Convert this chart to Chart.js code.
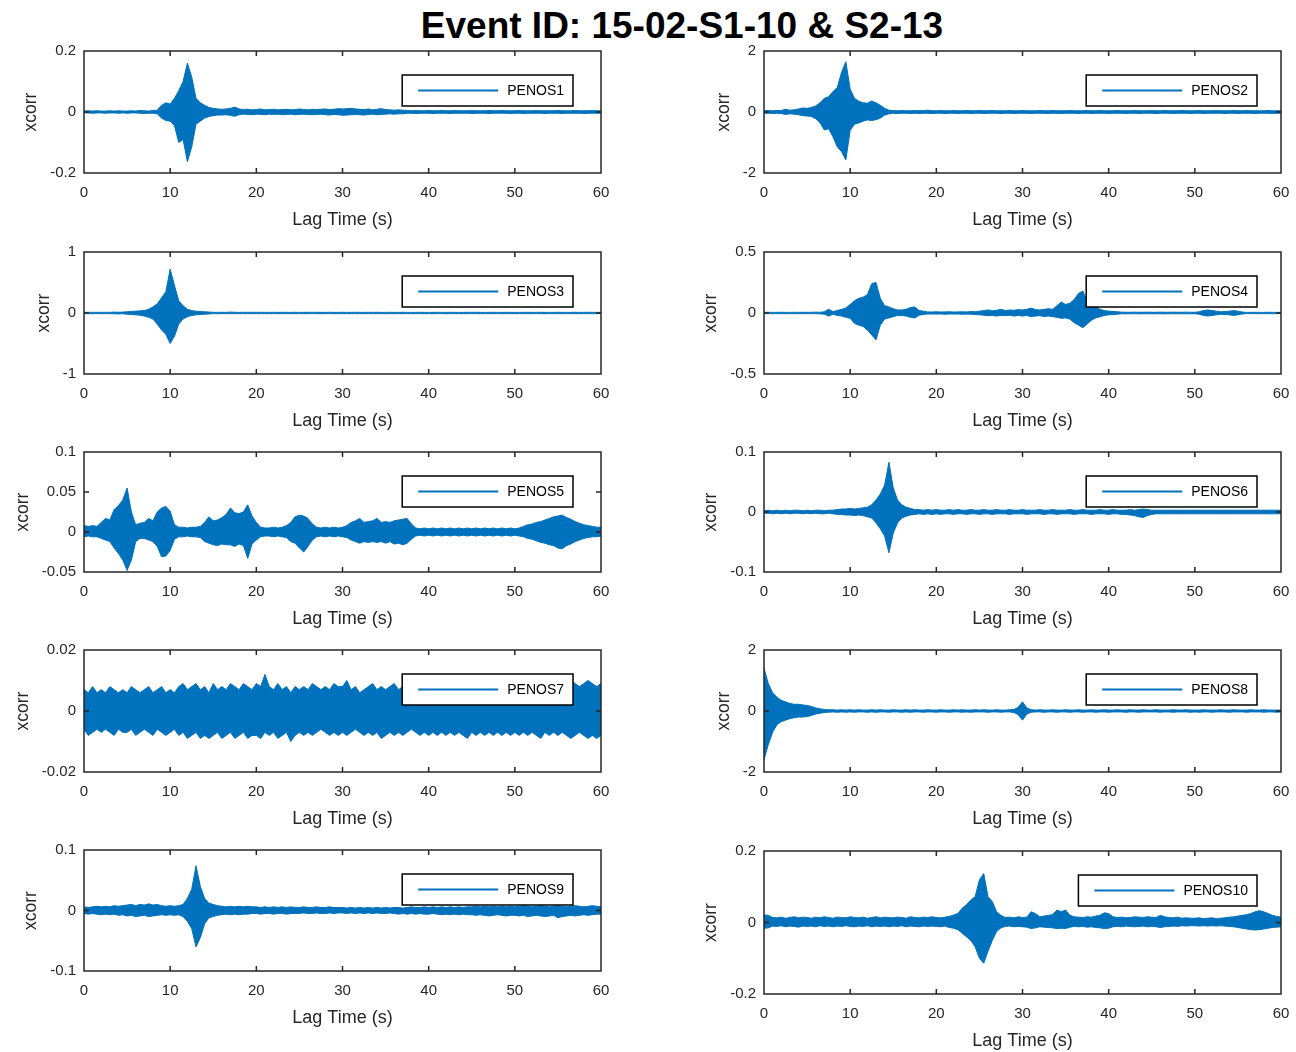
<!DOCTYPE html>
<html><head><meta charset="utf-8">
<script src="https://cdn.jsdelivr.net/npm/chart.js@4.4.1/dist/chart.umd.min.js"></script>
<style>
html,body{margin:0;padding:0;background:#fff;width:1296px;height:1052px;overflow:hidden;position:relative;font-family:"Liberation Sans",Arial,sans-serif}
#title{position:absolute;top:7px;left:682px;transform:translateX(-50%);font-size:37px;line-height:37px;font-weight:bold;white-space:nowrap;color:#000}
canvas{position:absolute}
#warn{position:absolute;left:0;bottom:0;color:red;font-size:12px}
</style></head><body>
<div id="title">Event ID: 15-02-S1-10 &amp; S2-13</div>
<div id="warn"></div>
<script>
// ---- DATA (upper / lower envelope of each cross-correlation trace, sampled every 0.5 s) ----
const lagTime = [0,0.5,1,1.5,2,2.5,3,3.5,4,4.5,5,5.5,6,6.5,7,7.5,8,8.5,9,9.5,
10,10.5,11,11.5,12,12.5,13,13.5,14,14.5,15,15.5,16,16.5,17,17.5,18,18.5,19,19.5,
20,20.5,21,21.5,22,22.5,23,23.5,24,24.5,25,25.5,26,26.5,27,27.5,28,28.5,29,29.5,
30,30.5,31,31.5,32,32.5,33,33.5,34,34.5,35,35.5,36,36.5,37,37.5,38,38.5,39,39.5,
40,40.5,41,41.5,42,42.5,43,43.5,44,44.5,45,45.5,46,46.5,47,47.5,48,48.5,49,49.5,
50,50.5,51,51.5,52,52.5,53,53.5,54,54.5,55,55.5,56,56.5,57,57.5,58,58.5,59,59.5,60];
const xTicks = [0,10,20,30,40,50,60];
const stations = ['PENOS1','PENOS2','PENOS3','PENOS4','PENOS5','PENOS6','PENOS7','PENOS8','PENOS9','PENOS10'];
const yLimits = [[-0.2,0.2],[-2,2],[-1,1],[-0.5,0.5],[-0.05,0.1],[-0.1,0.1],[-0.02,0.02],[-2,2],[-0.1,0.1],[-0.2,0.2]];
const yTicks = [[-0.2,0,0.2],[-2,0,2],[-1,0,1],[-0.5,0,0.5],[-0.05,0,0.05,0.1],[-0.1,0,0.1],[-0.02,0,0.02],[-2,0,2],[-0.1,0,0.1],[-0.2,0,0.2]];

const penos1Upper = [0.003,0.004,0.003,0.004,0.003,0.003,0.004,0.003,0.004,0.003,
0.003,0.004,0.003,0.005,0.004,0.003,0.005,0.006,0.022,0.03,
0.026,0.045,0.07,0.1,0.16,0.115,0.045,0.03,0.022,0.015,
0.012,0.01,0.009,0.01,0.012,0.016,0.01,0.008,0.009,0.007,
0.008,0.01,0.007,0.008,0.009,0.007,0.008,0.009,0.007,0.008,
0.01,0.008,0.007,0.009,0.008,0.009,0.01,0.008,0.009,0.011,
0.01,0.011,0.012,0.01,0.009,0.008,0.01,0.007,0.009,0.011,
0.008,0.007,0.006,0.007,0.006,0.005,0.004,0.005,0.004,0.004,
0.005,0.004,0.004,0.005,0.004,0.004,0.005,0.004,0.004,0.004,
0.005,0.004,0.004,0.004,0.005,0.004,0.004,0.005,0.004,0.004,
0.004,0.005,0.004,0.004,0.004,0.005,0.004,0.004,0.004,0.004,
0.005,0.004,0.004,0.004,0.005,0.004,0.004,0.004,0.005,0.004,0.004];
const penos1Lower = [-0.003,-0.003,-0.004,-0.003,-0.003,-0.004,-0.003,-0.003,-0.004,-0.003,
-0.004,-0.003,-0.003,-0.004,-0.005,-0.004,-0.004,-0.006,-0.02,-0.028,
-0.03,-0.045,-0.1,-0.09,-0.163,-0.115,-0.04,-0.03,-0.02,-0.015,
-0.012,-0.01,-0.01,-0.009,-0.011,-0.014,-0.009,-0.007,-0.008,-0.009,
-0.007,-0.008,-0.009,-0.007,-0.008,-0.007,-0.009,-0.008,-0.007,-0.009,
-0.008,-0.007,-0.008,-0.009,-0.008,-0.007,-0.009,-0.01,-0.008,-0.009,
-0.011,-0.01,-0.009,-0.008,-0.009,-0.01,-0.008,-0.007,-0.009,-0.008,
-0.007,-0.006,-0.007,-0.006,-0.006,-0.004,-0.004,-0.005,-0.004,-0.004,
-0.004,-0.005,-0.004,-0.004,-0.004,-0.005,-0.004,-0.004,-0.004,-0.004,
-0.005,-0.004,-0.004,-0.004,-0.005,-0.004,-0.004,-0.004,-0.004,-0.005,
-0.004,-0.004,-0.005,-0.004,-0.004,-0.004,-0.004,-0.005,-0.004,-0.004,
-0.004,-0.005,-0.004,-0.004,-0.004,-0.004,-0.005,-0.004,-0.004,-0.004,-0.004];

const penos2Upper = [0.04,0.05,0.04,0.05,0.05,0.09,0.06,0.07,0.1,0.13,
0.12,0.15,0.2,0.3,0.45,0.5,0.67,0.8,1.3,1.65,
0.75,0.45,0.35,0.3,0.29,0.36,0.3,0.22,0.12,0.06,
0.05,0.04,0.05,0.04,0.04,0.05,0.04,0.05,0.06,0.04,
0.04,0.05,0.04,0.04,0.05,0.04,0.04,0.05,0.04,0.04,
0.05,0.04,0.04,0.05,0.04,0.04,0.04,0.05,0.04,0.04,
0.05,0.04,0.04,0.04,0.05,0.04,0.04,0.05,0.04,0.04,
0.04,0.05,0.04,0.04,0.04,0.05,0.04,0.04,0.05,0.04,
0.04,0.04,0.05,0.04,0.04,0.04,0.05,0.04,0.04,0.04,
0.05,0.04,0.04,0.05,0.04,0.04,0.04,0.05,0.04,0.04,
0.04,0.05,0.04,0.04,0.04,0.05,0.04,0.04,0.04,0.05,
0.04,0.04,0.05,0.04,0.04,0.04,0.04,0.05,0.04,0.04,0.04];
const penos2Lower = [-0.04,-0.04,-0.05,-0.04,-0.05,-0.08,-0.06,-0.07,-0.09,-0.12,
-0.13,-0.15,-0.22,-0.35,-0.59,-0.55,-0.81,-1.14,-1.3,-1.57,
-0.6,-0.4,-0.36,-0.3,-0.26,-0.28,-0.25,-0.2,-0.1,-0.06,
-0.04,-0.05,-0.04,-0.04,-0.05,-0.04,-0.05,-0.04,-0.04,-0.05,
-0.04,-0.04,-0.05,-0.04,-0.04,-0.05,-0.04,-0.04,-0.05,-0.04,
-0.04,-0.05,-0.04,-0.04,-0.04,-0.05,-0.04,-0.04,-0.05,-0.04,
-0.04,-0.04,-0.05,-0.04,-0.04,-0.04,-0.05,-0.04,-0.04,-0.05,
-0.04,-0.04,-0.04,-0.05,-0.04,-0.04,-0.05,-0.04,-0.04,-0.04,
-0.05,-0.04,-0.04,-0.04,-0.05,-0.04,-0.04,-0.05,-0.04,-0.04,
-0.04,-0.05,-0.04,-0.04,-0.04,-0.05,-0.04,-0.04,-0.04,-0.05,
-0.04,-0.04,-0.05,-0.04,-0.04,-0.04,-0.04,-0.05,-0.04,-0.04,
-0.05,-0.04,-0.04,-0.04,-0.05,-0.04,-0.04,-0.04,-0.05,-0.04,-0.04];

const penos3Upper = [0.01,0.012,0.01,0.012,0.01,0.012,0.01,0.015,0.012,0.015,
0.02,0.025,0.03,0.035,0.04,0.06,0.1,0.15,0.25,0.35,
0.72,0.45,0.2,0.12,0.06,0.04,0.03,0.025,0.02,0.015,
0.012,0.01,0.012,0.01,0.015,0.012,0.01,0.012,0.01,0.012,
0.01,0.012,0.01,0.01,0.012,0.01,0.012,0.01,0.01,0.012,
0.01,0.01,0.012,0.01,0.012,0.01,0.01,0.012,0.01,0.01,
0.012,0.01,0.01,0.012,0.01,0.01,0.012,0.01,0.012,0.01,
0.01,0.012,0.01,0.01,0.012,0.01,0.01,0.01,0.012,0.01,
0.01,0.01,0.012,0.01,0.01,0.012,0.01,0.01,0.01,0.012,
0.01,0.012,0.01,0.01,0.01,0.012,0.01,0.01,0.012,0.01,
0.01,0.01,0.01,0.012,0.01,0.01,0.012,0.01,0.01,0.01,
0.012,0.01,0.01,0.01,0.012,0.01,0.01,0.012,0.01,0.01,0.01];
const penos3Lower = [-0.01,-0.01,-0.012,-0.01,-0.012,-0.01,-0.012,-0.012,-0.015,-0.012,
-0.02,-0.025,-0.03,-0.035,-0.05,-0.07,-0.1,-0.18,-0.28,-0.35,
-0.5,-0.38,-0.18,-0.1,-0.06,-0.04,-0.03,-0.025,-0.02,-0.015,
-0.01,-0.012,-0.01,-0.012,-0.01,-0.01,-0.012,-0.01,-0.012,-0.01,
-0.012,-0.01,-0.01,-0.012,-0.01,-0.012,-0.01,-0.01,-0.012,-0.01,
-0.01,-0.012,-0.01,-0.01,-0.01,-0.012,-0.01,-0.01,-0.012,-0.01,
-0.01,-0.01,-0.012,-0.01,-0.012,-0.01,-0.01,-0.012,-0.01,-0.01,
-0.012,-0.01,-0.01,-0.01,-0.012,-0.01,-0.012,-0.01,-0.01,-0.012,
-0.01,-0.012,-0.01,-0.01,-0.012,-0.01,-0.01,-0.01,-0.012,-0.01,
-0.01,-0.01,-0.012,-0.01,-0.01,-0.012,-0.01,-0.012,-0.01,-0.01,
-0.012,-0.01,-0.01,-0.012,-0.01,-0.01,-0.01,-0.012,-0.01,-0.01,
-0.01,-0.012,-0.01,-0.01,-0.012,-0.01,-0.01,-0.01,-0.012,-0.01,-0.01];

const penos4Upper = [0.005,0.006,0.005,0.005,0.006,0.005,0.005,0.006,0.005,0.006,
0.005,0.006,0.007,0.006,0.01,0.03,0.012,0.02,0.03,0.04,
0.07,0.1,0.12,0.13,0.15,0.24,0.25,0.12,0.06,0.05,
0.035,0.025,0.025,0.03,0.045,0.05,0.02,0.015,0.009,0.008,
0.01,0.008,0.009,0.01,0.008,0.009,0.01,0.009,0.012,0.01,
0.015,0.02,0.025,0.018,0.022,0.03,0.02,0.025,0.022,0.028,
0.025,0.03,0.04,0.028,0.025,0.03,0.035,0.03,0.06,0.09,
0.07,0.08,0.11,0.16,0.18,0.1,0.07,0.05,0.03,0.02,
0.015,0.012,0.01,0.007,0.006,0.006,0.007,0.006,0.006,0.007,
0.006,0.006,0.007,0.006,0.006,0.007,0.006,0.006,0.007,0.006,
0.006,0.01,0.02,0.025,0.02,0.015,0.01,0.012,0.015,0.02,
0.015,0.008,0.005,0.005,0.006,0.005,0.005,0.006,0.005,0.005,0.005];
const penos4Lower = [-0.005,-0.005,-0.006,-0.005,-0.005,-0.006,-0.005,-0.005,-0.006,-0.005,
-0.006,-0.005,-0.006,-0.007,-0.01,-0.025,-0.01,-0.02,-0.025,-0.035,
-0.044,-0.085,-0.1,-0.11,-0.14,-0.18,-0.22,-0.1,-0.05,-0.04,
-0.03,-0.02,-0.02,-0.025,-0.035,-0.04,-0.018,-0.012,-0.008,-0.008,
-0.009,-0.008,-0.01,-0.008,-0.009,-0.008,-0.01,-0.009,-0.01,-0.012,
-0.015,-0.018,-0.022,-0.02,-0.025,-0.02,-0.022,-0.018,-0.025,-0.02,
-0.025,-0.02,-0.03,-0.025,-0.022,-0.028,-0.025,-0.03,-0.035,-0.044,
-0.04,-0.05,-0.08,-0.1,-0.12,-0.09,-0.06,-0.04,-0.03,-0.02,
-0.015,-0.012,-0.01,-0.006,-0.007,-0.006,-0.006,-0.007,-0.006,-0.006,
-0.007,-0.006,-0.006,-0.007,-0.006,-0.006,-0.007,-0.006,-0.006,-0.007,
-0.006,-0.01,-0.02,-0.025,-0.02,-0.015,-0.01,-0.012,-0.015,-0.02,
-0.015,-0.008,-0.005,-0.005,-0.005,-0.006,-0.005,-0.005,-0.006,-0.005,-0.005];

const penos5Upper = [0.008,0.007,0.008,0.007,0.012,0.017,0.015,0.028,0.033,0.04,
0.055,0.025,0.009,0.011,0.012,0.017,0.014,0.025,0.03,0.032,
0.026,0.009,0.006,0.006,0.005,0.006,0.006,0.007,0.012,0.019,
0.014,0.015,0.018,0.022,0.03,0.024,0.023,0.025,0.034,0.02,
0.012,0.006,0.005,0.005,0.006,0.005,0.006,0.008,0.012,0.019,
0.021,0.02,0.017,0.01,0.006,0.005,0.006,0.005,0.006,0.005,
0.006,0.008,0.012,0.014,0.017,0.012,0.013,0.014,0.017,0.012,
0.013,0.012,0.014,0.015,0.016,0.017,0.01,0.005,0.004,0.005,
0.004,0.005,0.004,0.005,0.004,0.005,0.004,0.005,0.004,0.005,
0.004,0.005,0.004,0.005,0.004,0.005,0.004,0.005,0.004,0.005,
0.004,0.005,0.007,0.009,0.01,0.012,0.013,0.015,0.017,0.019,
0.02,0.021,0.018,0.016,0.013,0.011,0.009,0.008,0.007,0.006,0.006];
const penos5Lower = [-0.006,-0.005,-0.006,-0.006,-0.008,-0.01,-0.012,-0.02,-0.027,-0.035,
-0.048,-0.035,-0.012,-0.008,-0.008,-0.01,-0.012,-0.018,-0.031,-0.03,
-0.023,-0.009,-0.006,-0.006,-0.005,-0.006,-0.006,-0.007,-0.012,-0.014,
-0.016,-0.017,-0.015,-0.016,-0.016,-0.018,-0.015,-0.017,-0.033,-0.015,
-0.01,-0.006,-0.005,-0.005,-0.006,-0.005,-0.006,-0.007,-0.012,-0.014,
-0.02,-0.025,-0.018,-0.01,-0.006,-0.005,-0.006,-0.005,-0.006,-0.005,
-0.006,-0.007,-0.01,-0.012,-0.014,-0.012,-0.013,-0.012,-0.013,-0.012,
-0.014,-0.012,-0.015,-0.014,-0.016,-0.014,-0.009,-0.005,-0.004,-0.005,
-0.004,-0.005,-0.004,-0.005,-0.004,-0.005,-0.004,-0.005,-0.004,-0.005,
-0.004,-0.005,-0.004,-0.005,-0.004,-0.005,-0.004,-0.005,-0.004,-0.005,
-0.004,-0.005,-0.006,-0.008,-0.009,-0.011,-0.013,-0.014,-0.016,-0.017,
-0.02,-0.021,-0.017,-0.015,-0.012,-0.01,-0.008,-0.007,-0.006,-0.006,-0.005];

const penos6Upper = [0.002,0.003,0.002,0.003,0.002,0.003,0.002,0.003,0.003,0.002,
0.003,0.002,0.003,0.003,0.002,0.003,0.003,0.004,0.005,0.005,
0.006,0.005,0.006,0.007,0.008,0.012,0.02,0.03,0.045,0.083,
0.04,0.02,0.012,0.008,0.006,0.004,0.004,0.003,0.004,0.003,
0.004,0.003,0.003,0.004,0.003,0.004,0.003,0.003,0.004,0.003,
0.003,0.004,0.003,0.003,0.004,0.003,0.003,0.004,0.003,0.003,
0.004,0.003,0.003,0.003,0.004,0.003,0.003,0.004,0.003,0.003,
0.003,0.004,0.003,0.003,0.004,0.003,0.003,0.003,0.004,0.003,
0.003,0.004,0.003,0.003,0.003,0.004,0.003,0.004,0.005,0.004,
0.003,0.003,0.003,0.003,0.003,0.003,0.003,0.003,0.003,0.003,
0.003,0.003,0.003,0.003,0.003,0.003,0.003,0.003,0.003,0.003,
0.003,0.003,0.003,0.003,0.003,0.003,0.003,0.003,0.003,0.003,0.003];
const penos6Lower = [-0.002,-0.002,-0.003,-0.002,-0.003,-0.002,-0.003,-0.002,-0.002,-0.003,
-0.002,-0.003,-0.002,-0.003,-0.003,-0.002,-0.003,-0.004,-0.004,-0.005,
-0.005,-0.006,-0.005,-0.006,-0.008,-0.01,-0.018,-0.028,-0.04,-0.068,
-0.035,-0.018,-0.01,-0.007,-0.005,-0.004,-0.003,-0.004,-0.003,-0.004,
-0.003,-0.004,-0.003,-0.003,-0.004,-0.003,-0.003,-0.004,-0.003,-0.003,
-0.004,-0.003,-0.003,-0.004,-0.003,-0.003,-0.003,-0.004,-0.003,-0.003,
-0.003,-0.004,-0.003,-0.003,-0.003,-0.004,-0.003,-0.003,-0.004,-0.003,
-0.003,-0.003,-0.004,-0.003,-0.003,-0.003,-0.004,-0.003,-0.003,-0.003,
-0.004,-0.003,-0.003,-0.004,-0.004,-0.005,-0.006,-0.008,-0.009,-0.006,
-0.004,-0.003,-0.003,-0.003,-0.003,-0.003,-0.003,-0.003,-0.003,-0.003,
-0.003,-0.003,-0.003,-0.003,-0.003,-0.003,-0.003,-0.003,-0.003,-0.003,
-0.003,-0.003,-0.003,-0.003,-0.003,-0.003,-0.003,-0.003,-0.003,-0.003,-0.003];

const penos7Upper = [0.007,0.006,0.008,0.006,0.007,0.006,0.008,0.007,0.006,0.007,
0.006,0.008,0.007,0.006,0.007,0.008,0.006,0.007,0.008,0.006,
0.007,0.006,0.008,0.009,0.007,0.008,0.009,0.007,0.008,0.006,
0.009,0.007,0.008,0.007,0.009,0.008,0.007,0.009,0.008,0.007,
0.009,0.008,0.012,0.008,0.007,0.009,0.007,0.008,0.006,0.008,
0.007,0.008,0.007,0.009,0.008,0.007,0.008,0.007,0.009,0.008,
0.008,0.01,0.007,0.008,0.006,0.007,0.008,0.009,0.007,0.008,
0.007,0.008,0.009,0.007,0.008,0.006,0.008,0.007,0.009,0.008,
0.007,0.008,0.009,0.007,0.008,0.007,0.008,0.006,0.007,0.008,
0.007,0.009,0.008,0.007,0.008,0.007,0.009,0.008,0.007,0.008,
0.007,0.008,0.007,0.009,0.008,0.007,0.008,0.009,0.007,0.008,
0.008,0.009,0.008,0.01,0.009,0.008,0.009,0.01,0.009,0.008,0.009];
const penos7Lower = [-0.006,-0.008,-0.007,-0.006,-0.007,-0.006,-0.007,-0.008,-0.006,-0.007,
-0.007,-0.006,-0.008,-0.007,-0.006,-0.007,-0.008,-0.006,-0.007,-0.008,
-0.007,-0.006,-0.008,-0.007,-0.009,-0.008,-0.007,-0.009,-0.008,-0.009,
-0.008,-0.007,-0.009,-0.008,-0.007,-0.009,-0.008,-0.007,-0.009,-0.008,
-0.008,-0.009,-0.007,-0.008,-0.007,-0.009,-0.008,-0.007,-0.01,-0.008,
-0.007,-0.008,-0.007,-0.008,-0.007,-0.006,-0.007,-0.008,-0.007,-0.008,
-0.007,-0.008,-0.007,-0.006,-0.007,-0.008,-0.007,-0.008,-0.007,-0.009,
-0.008,-0.007,-0.008,-0.007,-0.008,-0.007,-0.006,-0.007,-0.008,-0.007,
-0.008,-0.007,-0.008,-0.007,-0.008,-0.007,-0.008,-0.007,-0.008,-0.009,
-0.007,-0.008,-0.007,-0.008,-0.007,-0.008,-0.007,-0.008,-0.007,-0.008,
-0.007,-0.008,-0.007,-0.008,-0.007,-0.008,-0.009,-0.007,-0.008,-0.007,
-0.008,-0.007,-0.008,-0.009,-0.008,-0.007,-0.008,-0.009,-0.008,-0.009,-0.008];

const penos8Upper = [1.4,0.9,0.6,0.45,0.35,0.3,0.25,0.22,0.22,0.2,
0.18,0.15,0.1,0.07,0.05,0.04,0.04,0.03,0.04,0.03,
0.04,0.03,0.04,0.03,0.03,0.04,0.03,0.04,0.03,0.03,
0.04,0.03,0.03,0.04,0.03,0.04,0.03,0.03,0.04,0.03,
0.03,0.04,0.03,0.03,0.04,0.03,0.04,0.03,0.03,0.04,
0.03,0.04,0.03,0.03,0.04,0.03,0.03,0.04,0.05,0.12,
0.3,0.1,0.04,0.03,0.04,0.03,0.03,0.04,0.03,0.03,
0.04,0.03,0.03,0.04,0.03,0.03,0.04,0.03,0.03,0.04,
0.03,0.03,0.04,0.03,0.03,0.04,0.03,0.03,0.04,0.03,
0.03,0.04,0.03,0.03,0.03,0.04,0.03,0.03,0.04,0.03,
0.03,0.03,0.04,0.03,0.03,0.03,0.04,0.03,0.03,0.04,
0.03,0.03,0.03,0.04,0.03,0.03,0.04,0.03,0.03,0.03,0.03];
const penos8Lower = [-1.6,-1.1,-0.7,-0.45,-0.35,-0.3,-0.25,-0.22,-0.2,-0.2,
-0.18,-0.15,-0.1,-0.07,-0.05,-0.04,-0.03,-0.04,-0.03,-0.04,
-0.03,-0.04,-0.03,-0.03,-0.04,-0.03,-0.04,-0.03,-0.03,-0.04,
-0.03,-0.03,-0.04,-0.03,-0.04,-0.03,-0.03,-0.04,-0.03,-0.03,
-0.04,-0.03,-0.03,-0.04,-0.03,-0.03,-0.04,-0.03,-0.04,-0.03,
-0.03,-0.03,-0.04,-0.03,-0.03,-0.04,-0.03,-0.03,-0.05,-0.12,
-0.3,-0.1,-0.04,-0.03,-0.03,-0.04,-0.03,-0.03,-0.04,-0.03,
-0.03,-0.04,-0.03,-0.03,-0.04,-0.03,-0.03,-0.04,-0.03,-0.03,
-0.04,-0.03,-0.03,-0.03,-0.04,-0.03,-0.03,-0.04,-0.03,-0.03,
-0.03,-0.03,-0.04,-0.03,-0.03,-0.04,-0.03,-0.03,-0.03,-0.04,
-0.03,-0.04,-0.03,-0.03,-0.04,-0.03,-0.03,-0.03,-0.04,-0.03,
-0.03,-0.03,-0.04,-0.03,-0.03,-0.03,-0.04,-0.03,-0.03,-0.04,-0.03];

const penos9Upper = [0.006,0.005,0.006,0.007,0.006,0.007,0.006,0.008,0.007,0.008,
0.009,0.01,0.008,0.01,0.009,0.011,0.009,0.01,0.008,0.007,
0.008,0.007,0.008,0.01,0.02,0.035,0.074,0.04,0.02,0.012,
0.01,0.008,0.007,0.006,0.007,0.006,0.007,0.006,0.007,0.006,
0.006,0.005,0.006,0.005,0.006,0.005,0.006,0.005,0.006,0.005,
0.005,0.006,0.005,0.005,0.006,0.005,0.005,0.006,0.005,0.005,
0.005,0.004,0.005,0.004,0.005,0.004,0.005,0.004,0.005,0.004,
0.005,0.004,0.005,0.005,0.004,0.005,0.006,0.005,0.005,0.006,
0.005,0.006,0.005,0.006,0.005,0.006,0.005,0.006,0.005,0.006,
0.006,0.007,0.006,0.007,0.006,0.007,0.006,0.007,0.006,0.007,
0.006,0.007,0.008,0.007,0.006,0.007,0.008,0.007,0.006,0.007,
0.008,0.007,0.006,0.007,0.008,0.007,0.006,0.007,0.008,0.007,0.006];
const penos9Lower = [-0.005,-0.006,-0.005,-0.006,-0.007,-0.006,-0.007,-0.006,-0.008,-0.007,
-0.009,-0.008,-0.01,-0.009,-0.008,-0.01,-0.009,-0.008,-0.007,-0.008,
-0.007,-0.008,-0.007,-0.01,-0.018,-0.03,-0.06,-0.045,-0.022,-0.012,
-0.01,-0.008,-0.007,-0.006,-0.007,-0.006,-0.007,-0.006,-0.006,-0.005,
-0.005,-0.006,-0.005,-0.005,-0.006,-0.005,-0.005,-0.006,-0.005,-0.005,
-0.005,-0.004,-0.005,-0.005,-0.004,-0.005,-0.005,-0.004,-0.005,-0.004,
-0.004,-0.005,-0.004,-0.005,-0.004,-0.005,-0.004,-0.005,-0.004,-0.005,
-0.005,-0.004,-0.005,-0.006,-0.005,-0.006,-0.005,-0.006,-0.005,-0.006,
-0.006,-0.005,-0.006,-0.007,-0.006,-0.007,-0.006,-0.007,-0.006,-0.007,
-0.007,-0.008,-0.007,-0.008,-0.009,-0.008,-0.007,-0.008,-0.009,-0.008,
-0.008,-0.009,-0.008,-0.01,-0.009,-0.008,-0.009,-0.01,-0.009,-0.008,
-0.012,-0.01,-0.009,-0.008,-0.009,-0.008,-0.007,-0.008,-0.007,-0.006,-0.006];

const penos10Upper = [0.021,0.02,0.014,0.013,0.015,0.012,0.014,0.016,0.013,0.015,
0.014,0.012,0.015,0.013,0.016,0.014,0.012,0.015,0.014,0.013,
0.016,0.014,0.013,0.015,0.012,0.014,0.016,0.013,0.015,0.014,
0.013,0.015,0.014,0.012,0.016,0.014,0.013,0.015,0.014,0.016,
0.014,0.013,0.015,0.017,0.021,0.025,0.04,0.05,0.063,0.072,
0.119,0.137,0.072,0.058,0.03,0.02,0.014,0.015,0.013,0.016,
0.014,0.015,0.03,0.025,0.016,0.018,0.02,0.022,0.035,0.03,
0.035,0.02,0.016,0.015,0.014,0.016,0.015,0.018,0.02,0.027,
0.025,0.016,0.014,0.015,0.013,0.014,0.016,0.015,0.014,0.016,
0.015,0.014,0.02,0.016,0.014,0.013,0.015,0.012,0.013,0.012,
0.012,0.013,0.011,0.012,0.013,0.011,0.012,0.013,0.015,0.016,
0.018,0.02,0.022,0.025,0.03,0.033,0.03,0.025,0.02,0.017,0.015];
const penos10Lower = [-0.016,-0.015,-0.01,-0.011,-0.009,-0.012,-0.01,-0.011,-0.013,-0.01,
-0.011,-0.01,-0.012,-0.009,-0.011,-0.01,-0.012,-0.01,-0.011,-0.009,
-0.011,-0.012,-0.01,-0.011,-0.009,-0.012,-0.01,-0.011,-0.01,-0.012,
-0.01,-0.011,-0.009,-0.012,-0.01,-0.011,-0.012,-0.01,-0.011,-0.01,
-0.011,-0.012,-0.01,-0.014,-0.016,-0.02,-0.03,-0.04,-0.05,-0.068,
-0.1,-0.114,-0.08,-0.05,-0.025,-0.015,-0.011,-0.01,-0.012,-0.011,
-0.012,-0.013,-0.017,-0.015,-0.012,-0.013,-0.014,-0.015,-0.017,-0.016,
-0.017,-0.013,-0.011,-0.012,-0.011,-0.013,-0.012,-0.014,-0.015,-0.017,
-0.016,-0.012,-0.011,-0.012,-0.01,-0.011,-0.012,-0.011,-0.01,-0.012,
-0.011,-0.012,-0.014,-0.012,-0.011,-0.01,-0.011,-0.009,-0.01,-0.009,
-0.009,-0.01,-0.009,-0.01,-0.009,-0.01,-0.009,-0.01,-0.011,-0.012,
-0.014,-0.016,-0.018,-0.02,-0.021,-0.02,-0.018,-0.016,-0.014,-0.013,-0.012];

const uppers = [penos1Upper,penos2Upper,penos3Upper,penos4Upper,penos5Upper,penos6Upper,penos7Upper,penos8Upper,penos9Upper,penos10Upper];
const lowers = [penos1Lower,penos2Lower,penos3Lower,penos4Lower,penos5Lower,penos6Lower,penos7Lower,penos8Lower,penos9Lower,penos10Lower];

// ---- LAYOUT (page pixel positions of each plot box) ----
const frames = [
 {l:84,r:601,t:51,b:173},{l:764,r:1281,t:51,b:173},
 {l:84,r:601,t:252,b:374},{l:764,r:1281,t:252,b:374},
 {l:84,r:601,t:452,b:572},{l:764,r:1281,t:452,b:572},
 {l:84,r:601,t:650,b:772},{l:764,r:1281,t:650,b:772},
 {l:84,r:601,t:850,b:971},{l:764,r:1281,t:851,b:994}
];
const legendGap = [28, 24];
const BLUE = '#0072BD';
const AXIS = '#262626';

Chart.defaults.font.family = '"Liberation Sans", Arial, Helvetica, sans-serif';
Chart.defaults.color = AXIS;

const bad = [];
uppers.forEach((u,i)=>{ if(u.length!==lagTime.length) bad.push(stations[i]+'U'+u.length); if(lowers[i].length!==lagTime.length) bad.push(stations[i]+'L'+lowers[i].length); });
if (bad.length) document.getElementById('warn').textContent = 'len: ' + bad.join(' ');

function series(values){
  return lagTime.map((t,i)=>({x:t, y:values[i]}));
}

const framePlugin = {
  id:'matlabFrame',
  afterDatasetsDraw(chart, args, opts){
    const {ctx, chartArea:a, scales:{x,y}} = chart;
    const gap = opts.gap || 28;
    ctx.save();
    // legend box
    const label = chart.data.datasets[0].label;
    ctx.font = '14px "Liberation Sans", Arial, sans-serif';
    const tw = ctx.measureText(label).width;
    const bw = 16 + 80 + 9 + tw + 9, bh = 31;
    const bx = a.right - gap - bw, by = a.top + 24;
    ctx.fillStyle = '#fff';
    ctx.fillRect(bx, by, bw, bh);
    ctx.strokeStyle = '#000'; ctx.lineWidth = 1.5;
    ctx.strokeRect(bx, by, bw, bh);
    ctx.strokeStyle = BLUE; ctx.lineWidth = 2;
    ctx.beginPath(); ctx.moveTo(bx+16, by+bh/2); ctx.lineTo(bx+96, by+bh/2); ctx.stroke();
    ctx.fillStyle = '#000'; ctx.textBaseline = 'middle'; ctx.textAlign = 'left';
    ctx.fillText(label, bx+105, by+bh/2+1);
    // axes box and inward ticks
    ctx.strokeStyle = AXIS; ctx.lineWidth = 1.5;
    ctx.strokeRect(a.left, a.top, a.right-a.left, a.bottom-a.top);
    ctx.beginPath();
    x.ticks.forEach(t=>{
      if (t.value===x.min || t.value===x.max) return;
      const px = x.getPixelForValue(t.value);
      ctx.moveTo(px, a.bottom); ctx.lineTo(px, a.bottom-5);
      ctx.moveTo(px, a.top); ctx.lineTo(px, a.top+5);
    });
    y.ticks.forEach(t=>{
      if (t.value===y.min || t.value===y.max) return;
      const py = y.getPixelForValue(t.value);
      ctx.moveTo(a.left, py); ctx.lineTo(a.left+5, py);
      ctx.moveTo(a.right, py); ctx.lineTo(a.right-5, py);
    });
    ctx.stroke();
    ctx.restore();
  }
};

stations.forEach((name, i)=>{
  const f = frames[i];
  const col = i % 2;
  const cl = col===0 ? 0 : 648, cw = 700;
  const ct = f.t - 40, ch = (f.b - f.t) + 40 + 70;
  const cv = document.createElement('canvas');
  cv.width = cw; cv.height = ch;
  cv.style.left = cl+'px'; cv.style.top = ct+'px';
  cv.style.width = cw+'px'; cv.style.height = ch+'px';
  document.body.appendChild(cv);
  const target = {left:f.l-cl, right:f.r-cl, top:f.t-ct, bottom:f.b-ct};
  const ticksY = yTicks[i];
  const chart = new Chart(cv, {
    type:'line',
    data:{datasets:[
      {label:name, data:series(uppers[i]), borderColor:BLUE, backgroundColor:BLUE,
       borderWidth:1, pointRadius:0, fill:'+1', tension:0},
      {label:name+' (lower)', data:series(lowers[i]), borderColor:BLUE, backgroundColor:BLUE,
       borderWidth:1, pointRadius:0, fill:false, tension:0}
    ]},
    options:{
      responsive:false, animation:false, events:[], devicePixelRatio:1,
      layout:{padding:{left:20,right:60,top:40,bottom:10}},
      plugins:{legend:{display:false}, tooltip:{enabled:false}, title:{display:false},
        matlabFrame:{gap:legendGap[col]}},
      scales:{
        x:{type:'linear', min:0, max:60,
          afterBuildTicks:s=>{ s.ticks = xTicks.map(v=>({value:v})); },
          grid:{display:false, drawTicks:false}, border:{display:false},
          ticks:{padding:11, font:{size:15}, color:AXIS, maxRotation:0, autoSkip:false, callback:v=>String(v)},
          title:{display:true, text:'Lag Time (s)', font:{size:18, lineHeight:1}, color:AXIS, padding:{top:-2,bottom:0}}},
        y:{type:'linear', min:yLimits[i][0], max:yLimits[i][1],
          afterBuildTicks:s=>{ s.ticks = ticksY.map(v=>({value:v})); },
          grid:{display:false, drawTicks:false}, border:{display:false},
          ticks:{padding:8, font:{size:15}, color:AXIS, callback:v=>String(v)},
          title:{display:true, text:'xcorr', font:{size:17.5}, color:AXIS, padding:{top:0,bottom:0}}}
      }
    },
    plugins:[framePlugin]
  });
  for (let k=0;k<3;k++){
    const a = chart.chartArea, p = chart.options.layout.padding;
    p.left += target.left - a.left;
    p.top += target.top - a.top;
    p.right += a.right - target.right;
    p.bottom += a.bottom - target.bottom;
    chart.update();
  }
});
</script>
</body></html>
